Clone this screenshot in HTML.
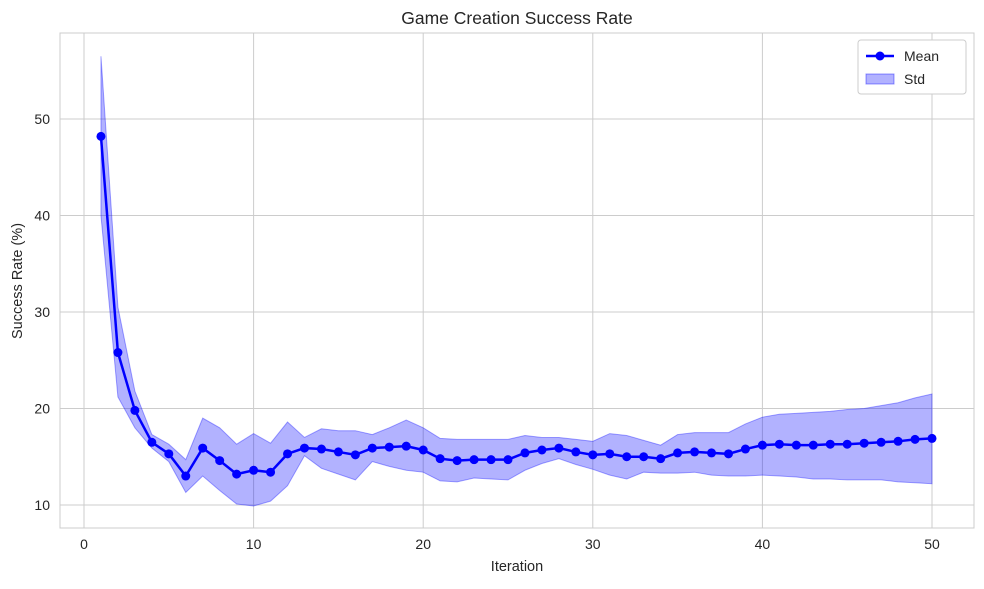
<!DOCTYPE html>
<html><head><meta charset="utf-8"><style>
body{margin:0;background:#fff;font-family:"Liberation Sans",sans-serif}
svg text{font-family:"Liberation Sans",sans-serif;fill:#262626}
</style></head><body>
<svg id="chart" width="984" height="584">
<text x="517" y="24" text-anchor="middle" font-size="17.5">Game Creation Success Rate</text>
<g id="grid"></g><g id="band"></g><g id="line"></g><g id="ticks"></g>
<rect x="60" y="33" width="914" height="495" fill="none" stroke="#ccc" stroke-width="1"/>
<text x="517" y="571" text-anchor="middle" font-size="14.5">Iteration</text>
<text transform="translate(22,281) rotate(-90)" text-anchor="middle" font-size="14.5">Success Rate (%)</text>
<g>
<rect x="858" y="40" width="108" height="54" rx="3" fill="#fff" stroke="#ccc"/>
<line x1="866" y1="56" x2="894" y2="56" stroke="#0000ff" stroke-width="2.5"/>
<circle cx="880" cy="56" r="4.5" fill="#0000ff"/>
<text x="904" y="61" font-size="14">Mean</text>
<rect x="866" y="74" width="28" height="10" fill="rgba(0,0,255,0.3)" stroke="rgba(0,0,255,0.4)"/>
<text x="904" y="84" font-size="14">Std</text>
</g>
</svg>
<script>
const iterations=[];for(let i=1;i<=50;i++)iterations.push(i);
const meanValues=[48.2,25.8,19.8,16.5,15.3,13.0,15.9,14.6,13.2,13.6,13.4,15.3,15.9,15.8,15.5,15.2,15.9,16.0,16.1,15.7,14.8,14.6,14.7,14.7,14.7,15.4,15.7,15.9,15.5,15.2,15.3,15.0,15.0,14.8,15.4,15.5,15.4,15.3,15.8,16.2,16.3,16.2,16.2,16.3,16.3,16.4,16.5,16.6,16.8,16.9];
const upperValues=[56.5,30.5,21.8,17.3,16.3,14.7,19,18,16.3,17.4,16.4,18.6,17,17.9,17.7,17.7,17.3,18,18.8,18,16.9,16.8,16.8,16.8,16.8,17.2,17.0,17.0,16.8,16.6,17.4,17.2,16.7,16.2,17.3,17.5,17.5,17.5,18.4,19.1,19.4,19.5,19.6,19.7,19.9,20.0,20.3,20.6,21.1,21.5];
const lowerValues=[40,21.2,18,15.9,14.5,11.3,13,11.5,10.1,9.9,10.4,12,15.1,13.8,13.2,12.6,14.5,14,13.6,13.4,12.5,12.4,12.8,12.7,12.6,13.6,14.3,14.8,14.2,13.7,13.1,12.7,13.4,13.3,13.3,13.4,13.1,13.0,13.0,13.1,13.0,12.9,12.7,12.7,12.6,12.6,12.6,12.4,12.3,12.2];
const xTicks=[0,10,20,30,40,50];
const yTicks=[10,20,30,40,50];
const NS="http://www.w3.org/2000/svg";
const X=v=>84+v*16.96, Y=v=>505-(v-10)*9.65;
function mk(tag,attrs,parent){const e=document.createElementNS(NS,tag);for(const k in attrs)e.setAttribute(k,attrs[k]);document.getElementById(parent).appendChild(e);return e;}
xTicks.forEach(t=>{
 const l=mk('line',{x1:X(t),x2:X(t),y1:33,y2:528,stroke:'#ccc'},'grid');
 
 
 const tx=mk('text',{x:X(t),y:549,'text-anchor':'middle','font-size':14},'ticks');tx.textContent=t;
 
 
});
yTicks.forEach(t=>{
 const l=mk('line',{x1:60,x2:974,y1:Y(t),y2:Y(t),stroke:'#ccc'},'grid');
 
 
 const tx=mk('text',{x:50,y:Y(t)+5,'text-anchor':'end','font-size':14},'ticks');tx.textContent=t;
 
 
});
let d='M'+iterations.map((x,i)=>X(x)+','+Y(upperValues[i])).join('L');
for(let i=iterations.length-1;i>=0;i--)d+='L'+X(iterations[i])+','+Y(lowerValues[i]);
const band=mk('path',{d:d+'Z',fill:'rgba(0,0,255,0.3)',stroke:'rgba(0,0,255,0.35)'},'band');


const pl=mk('polyline',{points:iterations.map((x,i)=>X(x)+','+Y(meanValues[i])).join(' '),fill:'none',stroke:'#0000ff','stroke-width':2.5},'line');


iterations.forEach((x,i)=>{
 const c=mk('circle',{cx:X(x),cy:Y(meanValues[i]),r:4.5,fill:'#0000ff'},'line');
 
 
});
</script>
</body></html>
